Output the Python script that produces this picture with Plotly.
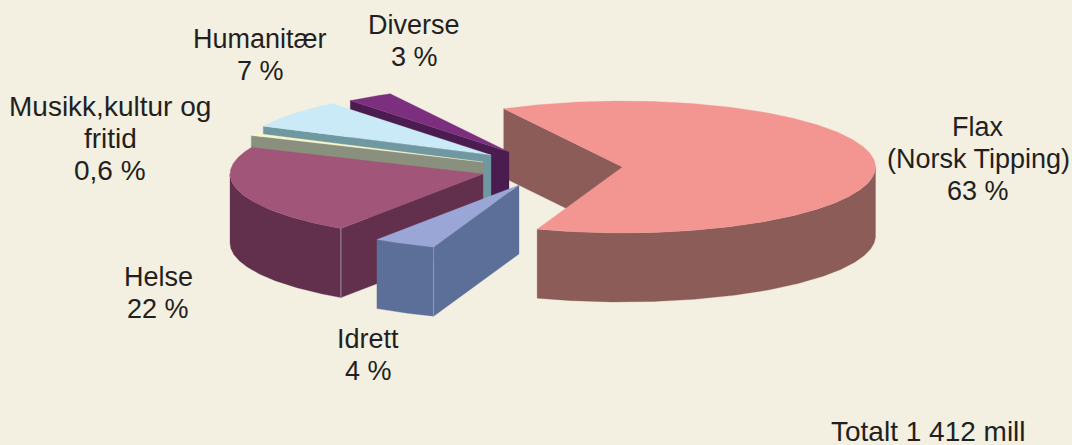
import numpy as np
import plotly.graph_objects as go

# --- data ---
categories = ["Flax", "Idrett", "Helse", "Musikk,kultur og fritid", "Humanitær", "Diverse"]
values = [63, 4, 22, 0.6, 7, 3]
value_labels = ["63 %", "4 %", "22 %", "0,6 %", "7 %", "3 %"]
label_names = [["Flax", "(Norsk Tipping)"], ["Idrett"], ["Helse"], ["Musikk,kultur og", "fritid"], ["Humanitær"], ["Diverse"]]
total_label = "Totalt 1 412 mill"

# --- styling and layout ---
top_colors = ["#f39691", "#9aa6d5", "#a05579", "#fbf6cb", "#c9eaf6", "#7c2f7e"]
wall_colors = ["#8b5c58", "#5b6f98", "#62304d", "#8a907e", "#6f98a0", "#4b1c4f"]
hub_x = [622.5, 519, 483, 483, 491, 509]      # exploded position of each slice's hub
hub_y = [167, 185, 174, 162, 155, 152]
label_x = [978, 368, 158, 110, 260, 414]
label_top = [127, 339, 277, 106, 39, 25]      # centre of each label's first line
label_size = [27, 27, 27, 28, 27, 27]
LINE_GAP = 32
RX, RY, DEPTH = 253, 66, 69
START_ANGLE = 118
BG = "#f3efe1"
TEXT = "#231f20"
draw_order = [0, 5, 4, 3, 2, 1]

fracs = np.array(values) / sum(values) * 360
starts = START_ANGLE - np.concatenate(([0], np.cumsum(fracs)[:-1]))
ends = starts - fracs


def arc(i, a0, a1):
    t = np.radians(np.linspace(a0, a1, max(int(abs(a1 - a0) * 2), 2)))
    return hub_x[i] + RX * np.cos(t), hub_y[i] - RY * np.sin(t)


def poly(fig, x, y, color, name):
    fig.add_trace(go.Scatter(
        x=x, y=y, mode="lines", fill="toself", fillcolor=color, name=name,
        line=dict(color=color, width=0.3), hoverinfo="name", showlegend=False))


fig = go.Figure()
for i in draw_order:
    name = categories[i]
    s, e = starts[i], ends[i]
    hx, hy = hub_x[i], hub_y[i]
    # radial wall on the leading edge (faces the viewer)
    ox, oy = arc(i, s, s)
    poly(fig, [hx, ox[0], ox[0], hx, hx], [hy, oy[0], oy[0] + DEPTH, hy + DEPTH, hy], wall_colors[i], name)
    # outer wall: only the part of the rim in the front half of the ellipse
    shift = 360 if e >= 180 else 0
    f_hi = min(s - shift, 0)
    f_lo = max(e - shift, -180)
    if f_hi > f_lo:
        ax, ay = arc(i, f_hi, f_lo)
        poly(fig, np.r_[ax, ax[::-1], ax[0]], np.r_[ay, ay[::-1] + DEPTH, ay[0]], wall_colors[i], name)
    # top face
    tx, ty = arc(i, s, e)
    poly(fig, np.r_[hx, tx, hx], np.r_[hy, ty, hy], top_colors[i], name)
    # pale vertical corner where radial and rim walls meet
    if np.sin(np.radians(s)) < 0:
        fig.add_trace(go.Scatter(x=[ox[0], ox[0]], y=[oy[0], oy[0] + DEPTH], mode="lines",
                                 line=dict(color="#a9a3bd", width=0.8), hoverinfo="skip", showlegend=False))

annotations = []
for lines, v, x, y, sz in zip(label_names, value_labels, label_x, label_top, label_size):
    for k, line in enumerate(lines + [v]):
        annotations.append(dict(x=x, y=y + k * LINE_GAP, text=line, showarrow=False,
                                font=dict(size=sz), xanchor="center", yanchor="middle", align="center"))
annotations.append(dict(x=928.5, y=431, text=total_label, showarrow=False, font=dict(size=28),
                        height=26, borderpad=0, valign="middle", xanchor="center", yanchor="middle"))

fig.update_layout(
    width=1072, height=445, margin=dict(l=0, r=0, t=0, b=0),
    paper_bgcolor=BG, plot_bgcolor=BG, showlegend=False,
    font=dict(family="Liberation Sans, Arial, sans-serif", size=27, color=TEXT),
    xaxis=dict(range=[0, 1072], visible=False, fixedrange=True),
    yaxis=dict(range=[445, 0], visible=False, fixedrange=True),
    annotations=annotations,
)
fig.write_html("out.html", config=dict(displayModeBar=False),
               post_script="document.body.style.margin='0';document.body.style.overflow='hidden';")
